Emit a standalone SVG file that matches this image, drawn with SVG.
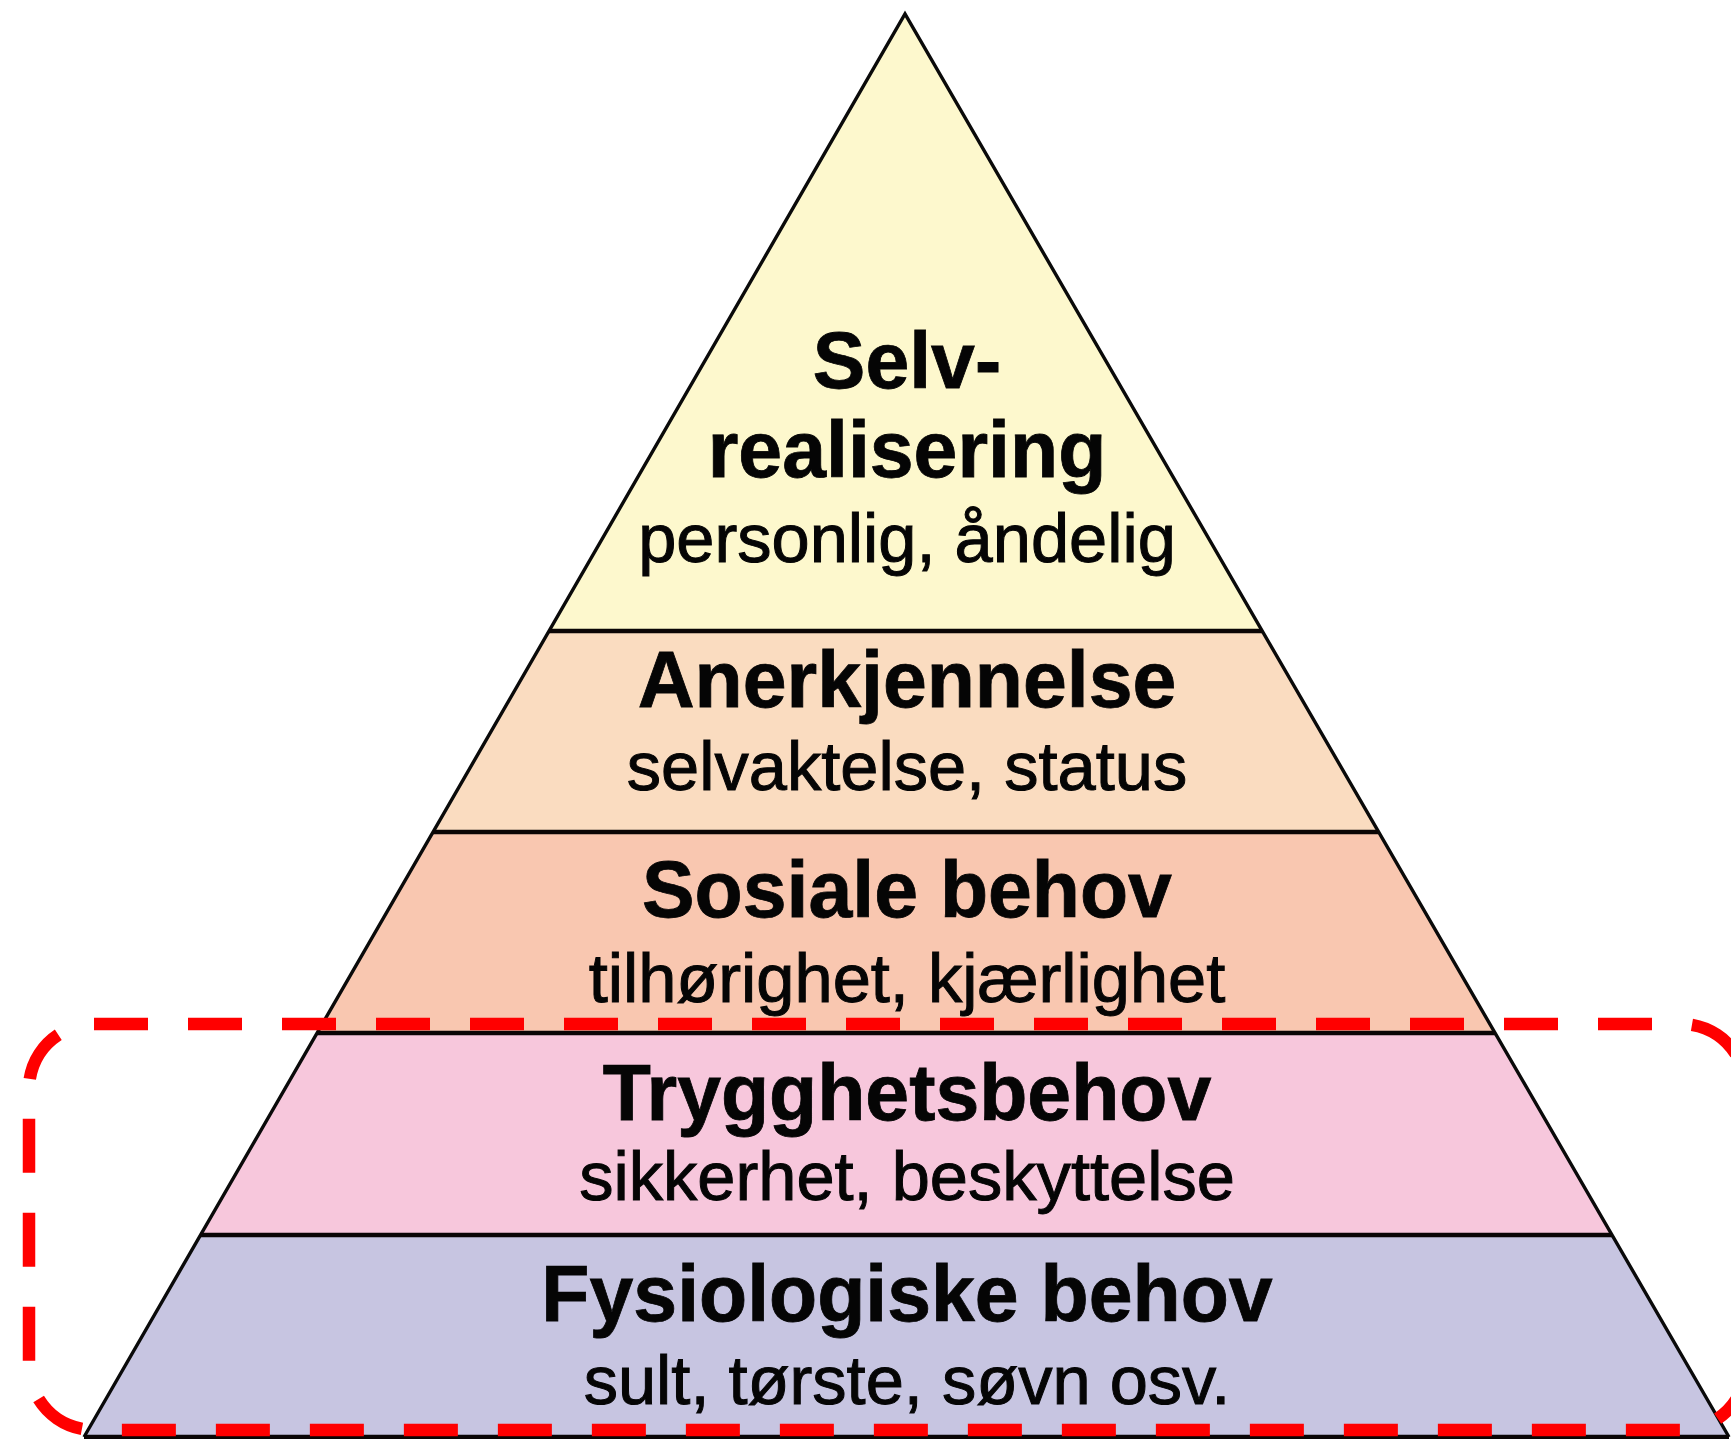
<svg xmlns="http://www.w3.org/2000/svg" width="1731" height="1439" viewBox="0 0 1731 1439">
<style>
.tier{stroke:none}
.div{stroke:#0a0505;stroke-width:4.5;fill:none}
.edge{stroke:#0a0a0a;stroke-width:3.4;fill:none;stroke-linejoin:miter}
.t{font-family:"Liberation Sans",Arial,sans-serif;fill:#050505;text-anchor:middle;stroke:#050505}
.b{font-weight:bold;font-size:78.8px;stroke-width:0.8}
.r{font-size:68.6px;stroke-width:1}
.hl{fill:none;stroke:#ff0000;stroke-width:12.5;stroke-dasharray:54 40}
</style>
<rect width="1731" height="1439" fill="#ffffff"/>
<g id="tier-selvrealisering">
<polygon class="tier" fill="#fdf8cd" points="905,14 549,631 1262,631"/>
<text class="t b" x="907" y="388">Selv-</text>
<text class="t b" x="907" y="477">realisering</text>
<text class="t r" x="907" y="562">personlig, åndelig</text>
</g>
<g id="tier-anerkjennelse">
<polygon class="tier" fill="#fadcc0" points="549,631 1262,631 1378,832 433,832"/>
<text class="t b" x="907" y="707">Anerkjennelse</text>
<text class="t r" x="907" y="790">selvaktelse, status</text>
</g>
<g id="tier-sosiale">
<polygon class="tier" fill="#f9c7b0" points="433,832 1378,832 1495,1033 317,1033"/>
<text class="t b" x="907" y="917">Sosiale behov</text>
<text class="t r" x="907" y="1002">tilhørighet, kjærlighet</text>
</g>
<g id="tier-trygghet">
<polygon class="tier" fill="#f7c7dc" points="317,1033 1495,1033 1612,1235 200,1235"/>
<text class="t b" x="907" y="1120">Trygghetsbehov</text>
<text class="t r" x="907" y="1200">sikkerhet, beskyttelse</text>
</g>
<g id="tier-fysiologiske">
<polygon class="tier" fill="#c7c5e1" points="200,1235 1612,1235 1729,1437 84,1437"/>
<text class="t b" x="907" y="1321">Fysiologiske behov</text>
<text class="t r" x="907" y="1404">sult, tørste, søvn osv.</text>
</g>
<g id="connectors">
<polyline class="edge" points="84,1437 905,14 1729,1437"/>
<line class="div" x1="549" y1="631" x2="1262" y2="631"/>
<line class="div" x1="433" y1="832" x2="1378" y2="832"/>
<line class="div" x1="317" y1="1033" x2="1495" y2="1033"/>
<line class="div" x1="200" y1="1235" x2="1612" y2="1235"/>
<line class="div" x1="84" y1="1437" x2="1729" y2="1437"/>
</g>
<g id="highlight">
<rect class="hl" x="29" y="1024" width="1717" height="406" rx="65" ry="65"/>
</g>
</svg>
